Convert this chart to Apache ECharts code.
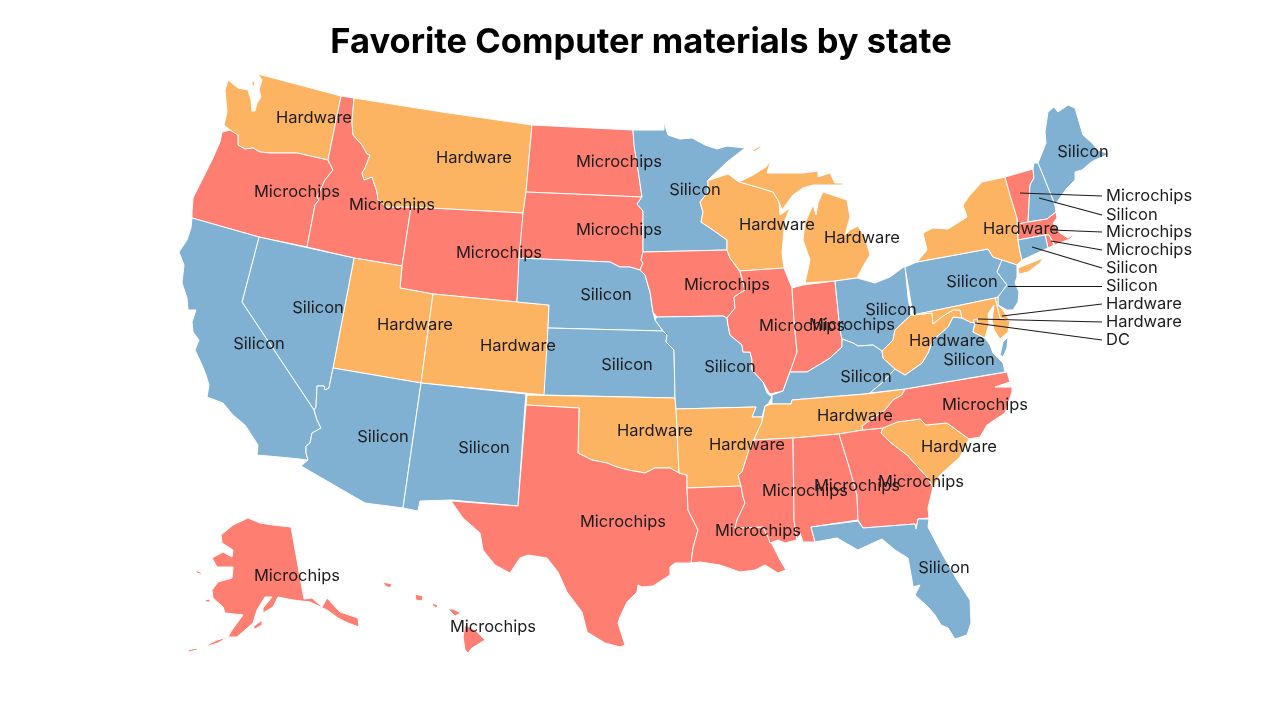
<!DOCTYPE html>
<html><head><meta charset="utf-8">
<style>html,body{margin:0;padding:0;background:#fff}#c{width:1280px;height:720px}</style>
<script src="https://cdn.jsdelivr.net/npm/echarts@6/dist/echarts.min.js"></script>
</head><body><div id="c"></div>
<script>
// ---- chart values ----
const chartTitle = 'Favorite Computer materials by state';
const states = ['WA','OR','ID','MT','WY','UT','CO','NV','CA','AZ','NM','ND','SD','NE','KS','OK','TX','MN','IA','MO','AR','LA','WI','IL','IN','MI','OH','KY','TN','MS','AL','GA','FL','SC','NC','VA','WV','PA','NY','ME','AK','HI','VT','NH','MA','RI','CT','NJ','DE','MD','DC'];
const materials = ['Hardware','Microchips','Microchips','Hardware','Microchips','Hardware','Hardware','Silicon','Silicon','Silicon','Silicon','Microchips','Microchips','Silicon','Silicon','Hardware','Microchips','Silicon','Microchips','Silicon','Hardware','Microchips','Hardware','Microchips','Microchips','Hardware','Silicon','Silicon','Hardware','Microchips','Microchips','Microchips','Silicon','Hardware','Microchips','Silicon','Hardware','Silicon','Hardware','Silicon','Microchips','Microchips','Microchips','Silicon','Microchips','Microchips','Silicon','Silicon','Hardware','Hardware','DC'];
const outsideStates = ['VT','NH','MA','RI','CT','NJ','DE','MD','DC'];
// ---- styles ----
const materialColors = {Silicon:'#80b1d3', Microchips:'#fe7f71', Hardware:'#fdb462', DC:'#fdb462'};
// ---- traced outlines (picture coordinates) ----
const outlines = {
WA:[[[258,74],[341,96],[328,160],[297,153],[270,153],[260,152],[253,148],[245,149],[238,145],[238,135],[230,130],[224,125],[227,112],[225,90],[228,80],[238,88],[248,90],[251,100],[252,111],[255,111],[257,103],[261,97],[259,90],[262,80]],[[252,81],[255,82],[254,86],[252,85]],[[254,89],[256,90],[255,93]]],
OR:[[[222,132],[230,130],[238,135],[238,145],[245,149],[253,148],[260,152],[270,153],[297,153],[328,160],[333,170],[325,180],[317,197],[319,200],[315,205],[307,247],[259,237],[192,218],[192,213],[193,198],[203,178],[213,158],[220,142]]],
ID:[[[341,96],[354,98],[352,122],[353,135],[362,145],[367,154],[370,155],[365,168],[362,173],[364,180],[372,177],[377,192],[378,200],[387,207],[411,207],[402,266],[354,258],[307,247],[315,205],[319,200],[317,197],[325,180],[333,170],[328,160]]],
MT:[[[354,98],[442,112],[532,125],[526,192],[523,213],[411,207],[387,207],[378,200],[377,192],[372,177],[364,180],[362,173],[365,168],[370,155],[367,154],[362,145],[353,135],[352,122]]],
WY:[[[411,207],[523,213],[517,302],[433,294],[400,288],[402,266]]],
UT:[[[354,258],[402,266],[400,288],[433,294],[421,383],[333,368]]],
CO:[[[433,294],[517,302],[549,305],[545,395],[421,383]]],
NV:[[[259,237],[354,258],[333,368],[329,388],[325,390],[324,386],[317,386],[316,407],[314,410],[242,302]]],
CA:[[[192,218],[259,237],[242,302],[314,410],[317,420],[321,428],[312,433],[310,443],[306,446],[306,453],[308,460],[290,458],[257,455],[258,445],[245,425],[233,415],[223,403],[207,397],[209,385],[206,375],[202,365],[195,350],[199,340],[193,332],[192,322],[196,310],[188,310],[187,298],[182,283],[184,265],[179,252],[187,240],[191,228]]],
AZ:[[[333,368],[421,383],[403,508],[365,503],[301,466],[308,460],[306,453],[306,446],[310,443],[312,433],[321,428],[317,420],[314,410],[316,407],[317,386],[324,386],[325,390],[329,388]]],
NM:[[[421,383],[526,394],[525,405],[518,506],[451,500],[420,501],[418,511],[403,508]]],
ND:[[[532,125],[633,130],[634,145],[638,170],[642,197],[526,192]]],
SD:[[[526,192],[642,197],[637,204],[643,211],[643,252],[641,260],[643,263],[640,270],[630,267],[620,267],[610,262],[519,258],[523,213]]],
NE:[[[519,258],[610,262],[620,267],[630,267],[640,270],[645,275],[650,292],[653,312],[655,320],[663,331],[548,328],[549,305],[517,302]]],
KS:[[[548,328],[663,331],[667,335],[666,342],[674,350],[675,398],[544,395]]],
OK:[[[527,395],[675,398],[676,409],[679,473],[670,468],[655,468],[645,473],[628,470],[617,467],[607,463],[592,460],[578,453],[579,408],[526,405]]],
TX:[[[526,405],[579,408],[578,453],[592,460],[607,463],[617,467],[628,470],[645,473],[655,468],[670,468],[679,473],[687,475],[687,488],[688,510],[698,530],[693,548],[691,563],[675,563],[670,567],[670,575],[653,586],[642,587],[638,585],[637,592],[627,602],[620,617],[618,623],[625,645],[620,647],[605,643],[587,632],[582,612],[567,592],[558,572],[547,558],[528,555],[520,558],[510,573],[495,565],[483,550],[480,533],[463,518],[451,501],[518,506]]],
MN:[[[633,130],[664,130],[664,122],[668,135],[680,139],[692,138],[705,145],[717,149],[727,146],[745,148],[727,162],[708,180],[708,192],[700,202],[703,212],[701,222],[713,230],[727,240],[727,250],[643,252],[643,211],[637,204],[642,197],[638,170],[634,145]]],
IA:[[[643,252],[727,250],[730,258],[740,272],[745,290],[734,297],[735,308],[727,318],[723,316],[657,317],[653,312],[650,292],[645,275],[640,270],[643,263],[641,260]]],
MO:[[[657,317],[723,316],[727,318],[728,325],[730,335],[742,345],[743,352],[750,352],[752,360],[752,370],[763,382],[767,393],[772,397],[768,404],[765,406],[762,417],[752,417],[756,407],[676,409],[675,398],[674,350],[666,342],[667,335],[663,331],[655,320]]],
AR:[[[676,409],[756,407],[752,417],[762,417],[762,422],[755,437],[749,450],[742,472],[738,475],[741,486],[687,488],[687,475],[679,473]]],
LA:[[[687,488],[741,486],[743,497],[745,503],[737,520],[735,528],[763,527],[768,537],[774,548],[780,560],[786,570],[778,573],[765,565],[755,570],[740,572],[720,565],[700,562],[691,563],[693,548],[698,530],[688,510]]],
WI:[[[710,180],[728,174],[739,182],[757,187],[773,192],[779,202],[780,215],[790,208],[785,220],[784,230],[782,253],[784,268],[740,271],[730,258],[727,250],[727,240],[713,230],[701,222],[703,212],[700,202],[708,192],[708,180]]],
IL:[[[740,271],[784,268],[792,288],[794,320],[797,352],[790,372],[787,380],[783,391],[770,394],[763,382],[752,370],[752,360],[750,352],[743,352],[742,345],[730,335],[728,325],[727,318],[735,308],[734,297],[745,290]]],
IN:[[[792,288],[803,285],[835,281],[840,330],[842,339],[842,347],[830,358],[822,363],[807,372],[790,372],[797,352],[794,320]]],
MI:[[[805,283],[835,281],[857,278],[865,263],[870,255],[865,237],[858,226],[850,230],[845,235],[850,217],[847,200],[823,192],[818,203],[816,215],[813,205],[805,223],[803,240],[810,260]],[[739,182],[753,175],[766,167],[771,160],[767,173],[787,173],[803,173],[818,171],[818,177],[830,173],[835,183],[843,183],[842,185],[828,185],[813,185],[803,188],[793,195],[782,210],[779,202],[773,192],[757,187]],[[753,150],[762,145],[760,148],[754,152]]],
OH:[[[835,281],[857,278],[875,283],[890,277],[905,266],[908,297],[911,315],[895,330],[893,340],[882,351],[873,345],[858,346],[853,343],[842,339],[840,330]]],
KY:[[[772,404],[772,395],[783,391],[787,380],[790,372],[807,372],[822,363],[830,358],[842,347],[842,339],[853,343],[858,346],[873,345],[882,351],[883,358],[895,369],[883,382],[870,393],[865,394],[792,400],[791,404]]],
TN:[[[905,389],[902,395],[893,400],[885,410],[862,426],[863,430],[839,434],[793,438],[755,440],[755,437],[762,422],[765,406],[772,404],[791,404],[792,400],[865,394]]],
MS:[[[755,440],[793,438],[794,520],[797,540],[785,543],[778,540],[770,543],[768,537],[763,527],[735,528],[737,520],[745,503],[743,497],[741,486],[738,475],[742,472],[749,450]]],
AL:[[[793,438],[839,434],[848,463],[857,495],[858,520],[811,527],[815,542],[803,542],[800,533],[797,540],[794,520]]],
GA:[[[839,434],[863,430],[883,428],[881,433],[890,442],[907,455],[927,477],[933,487],[928,508],[929,518],[918,519],[916,529],[915,524],[863,528],[858,520],[857,495],[848,463]]],
FL:[[[811,527],[858,521],[863,528],[915,524],[916,529],[918,519],[929,519],[928,527],[940,550],[957,580],[970,600],[971,623],[967,635],[955,639],[948,628],[941,625],[935,615],[928,607],[915,595],[920,585],[913,587],[912,580],[908,558],[895,550],[882,539],[875,542],[858,550],[837,538],[815,542]]],
SC:[[[883,428],[897,422],[920,419],[926,425],[947,423],[969,439],[960,457],[940,475],[933,487],[927,477],[907,455],[890,442],[881,433]]],
NC:[[[905,389],[1007,372],[1010,382],[995,387],[1012,387],[1012,392],[1005,413],[987,425],[980,437],[969,439],[947,423],[926,425],[920,419],[897,422],[883,428],[863,430],[862,426],[885,410],[893,400],[902,395]]],
VA:[[[883,382],[895,369],[905,375],[922,363],[928,353],[933,340],[948,327],[953,317],[962,318],[970,322],[975,323],[973,332],[985,338],[990,345],[993,353],[1003,363],[1005,372],[905,389],[870,393]],[[1000,355],[1003,342],[1008,337],[1007,348],[1003,357]]],
WV:[[[911,315],[913,315],[932,313],[933,324],[943,316],[953,310],[960,310],[962,318],[953,317],[948,327],[933,340],[928,353],[922,363],[905,375],[895,369],[883,358],[882,351],[893,340],[895,330]]],
PA:[[[905,267],[917,262],[988,249],[993,257],[1002,260],[997,272],[1007,285],[998,297],[995,298],[913,315]]],
NY:[[[1005,177],[1010,195],[1017,218],[1018,240],[1020,252],[1022,260],[1017,265],[1002,260],[993,257],[988,249],[917,262],[927,250],[923,233],[933,228],[948,229],[967,217],[963,205],[970,195],[982,182]],[[1018,268],[1043,258],[1040,263],[1028,272],[1019,274]]],
ME:[[[1038,163],[1046,143],[1045,132],[1048,112],[1054,107],[1058,112],[1068,105],[1075,108],[1083,135],[1092,143],[1098,150],[1109,154],[1095,160],[1090,163],[1082,170],[1075,172],[1075,180],[1067,188],[1057,202],[1055,205]]],
AK:[[[248,518],[260,523],[273,525],[291,527],[304,599],[312,598],[322,607],[327,598],[340,612],[358,618],[359,627],[348,623],[338,618],[327,610],[310,602],[293,600],[278,597],[273,607],[263,613],[263,608],[272,597],[265,597],[257,610],[253,623],[237,637],[228,637],[232,630],[243,615],[225,613],[223,607],[213,598],[212,590],[218,582],[232,578],[233,567],[217,567],[212,558],[223,552],[232,557],[233,550],[222,543],[221,535],[233,525]],[[195,570],[200,572],[203,575],[197,573]],[[205,600],[210,599],[210,602],[206,602]],[[253,627],[262,620],[262,625],[255,629]],[[207,645],[217,640],[228,637],[218,643],[208,646]],[[188,650],[197,648],[197,650],[189,652]]],
HI:[[[465,625],[475,630],[485,640],[472,648],[468,653],[465,650],[463,637]],[[448,609],[453,609],[461,613],[455,616],[452,613]],[[415,594],[423,596],[422,601],[416,600]],[[383,582],[392,584],[390,588],[385,586]],[[432,603],[438,605],[437,608],[433,606]]],
VT:[[[1005,177],[1033,169],[1034,178],[1030,185],[1028,222],[1018,224],[1017,218],[1010,195]]],
NH:[[[1034,163],[1038,163],[1055,205],[1056,212],[1047,219],[1028,222],[1030,185],[1034,178],[1033,169]]],
MA:[[[1018,224],[1028,222],[1047,219],[1056,212],[1057,218],[1053,223],[1060,233],[1068,238],[1076,233],[1070,239],[1062,242],[1055,245],[1049,235],[1045,235],[1018,240]]],
RI:[[[1045,235],[1049,235],[1054,245],[1048,248]]],
CT:[[[1018,240],[1045,235],[1048,248],[1033,255],[1022,260],[1020,252]]],
NJ:[[[1002,260],[1017,265],[1017,277],[1015,283],[1019,292],[1018,302],[1013,310],[1007,310],[998,305],[998,297],[1007,285],[997,272]]],
DE:[[[995,298],[998,297],[998,305],[1003,310],[1010,321],[1000,318]]],
MD:[[[913,315],[995,298],[1000,318],[1010,321],[1008,332],[1000,339],[994,330],[992,320],[994,305],[988,314],[989,324],[985,338],[973,332],[975,323],[970,322],[962,318],[960,310],[953,310],[943,316],[933,324],[932,313]]],
DC:[[[973,320],[977,319],[978,323],[975,324]]]
};
// cp of each label inside the map
const labelAnchors = {WA:[314,118],OR:[297,192],ID:[392,205],MT:[474,158],WY:[499,253],UT:[415,325],CO:[518,346],NV:[318,308],CA:[259,344],AZ:[383,437],NM:[484,448],ND:[619,162],SD:[619,230],NE:[606,295],KS:[627,365],OK:[655,431],TX:[623,522],MN:[695,190],IA:[727,285],MO:[730,367],AR:[747,445],LA:[758,531],WI:[777,225],IL:[802,326],IN:[852,325],MI:[862,238],OH:[891,310],KY:[866,377],TN:[855,416],MS:[805,491],AL:[857,486],GA:[921,482],FL:[944,568],SC:[959,447],NC:[985,405],VA:[969,360],WV:[947,341],PA:[972,282],NY:[1021,229],ME:[1083,152],AK:[297,576],HI:[493,627],VT:[1020,193],NH:[1039,198],MA:[1052,230],RI:[1051,241],CT:[1032,247],NJ:[1008,286],DE:[1002,316],MD:[978,319],DC:[975,323]};
// leader end points on the right, one per outside state
const leaderEnds = {VT:[1102,196],NH:[1102,215],MA:[1102,232],RI:[1102,250],CT:[1102,268],NJ:[1102,286],DE:[1102,304],MD:[1102,322],DC:[1102,340]};

const flip = p => [p[0], -p[1]];
const materialOf = n => materials[states.indexOf(n)];
const features = states.map(n => ({
  type:'Feature',
  properties:{name:n, cp:flip(labelAnchors[n])},
  geometry:{type:'MultiPolygon', coordinates:outlines[n].map(r => {
    const ring = r.map(flip); ring.push(ring[0]); return [ring];
  })}
}));
echarts.registerMap('usa', {type:'FeatureCollection', features});

let minX=1e9,minY=1e9,maxX=-1e9,maxY=-1e9;
Object.values(outlines).flat(2).forEach(p=>{minX=Math.min(minX,p[0]);maxX=Math.max(maxX,p[0]);minY=Math.min(minY,p[1]);maxY=Math.max(maxY,p[1]);});
const box = {left:minX, top:minY, width:maxX-minX, height:maxY-minY};
const labelFont = {fontFamily:'Inter', fontSize:16.5, color:'#1c1c1c', fontWeight:400};

const chart = echarts.init(document.getElementById('c'), null, {renderer:'canvas'});
chart.setOption({
  animation:false,
  backgroundColor:'#fff',
  title:{text:chartTitle, left:636, top:20, textAlign:'center',
    textStyle:{fontFamily:'Inter', fontSize:34.5, fontWeight:700, color:'#000'}},
  geo:Object.assign({map:'usa', aspectScale:1, roam:false, silent:true, z:1,
    itemStyle:{areaColor:'rgba(0,0,0,0)', borderColor:'rgba(0,0,0,0)', borderWidth:0},
    label:{show:false}, emphasis:{disabled:true}}, box),
  series:[
    Object.assign({type:'map', map:'usa', aspectScale:1, roam:false, silent:true, z:2,
      itemStyle:{borderColor:'#fff', borderWidth:1},
      label:Object.assign({show:true, formatter:p=>materialOf(p.name)}, labelFont),
      emphasis:{disabled:true}, select:{disabled:true},
      data:states.map((n,i)=>({name:n, value:1, itemStyle:{areaColor:materialColors[materials[i]]},
        label:{show:!outsideStates.includes(n)}}))}, box),
    {type:'lines', coordinateSystem:'geo', geoIndex:0, silent:true, z:3, polyline:false,
      lineStyle:{color:'#1a1a1a', width:1.2, opacity:1, curveness:0}, symbol:'none',
      data:outsideStates.map(n=>({coords:[flip(labelAnchors[n]), flip(leaderEnds[n])]}))},
    {type:'scatter', coordinateSystem:'geo', geoIndex:0, silent:true, z:4, symbolSize:0,
      itemStyle:{opacity:1},
      label:Object.assign({show:true, position:'right', distance:4, opacity:1, formatter:p=>p.data.text}, labelFont),
      data:outsideStates.map(n=>({name:n, value:flip(leaderEnds[n]), text:materialOf(n)}))}
  ]
});
</script></body></html>
